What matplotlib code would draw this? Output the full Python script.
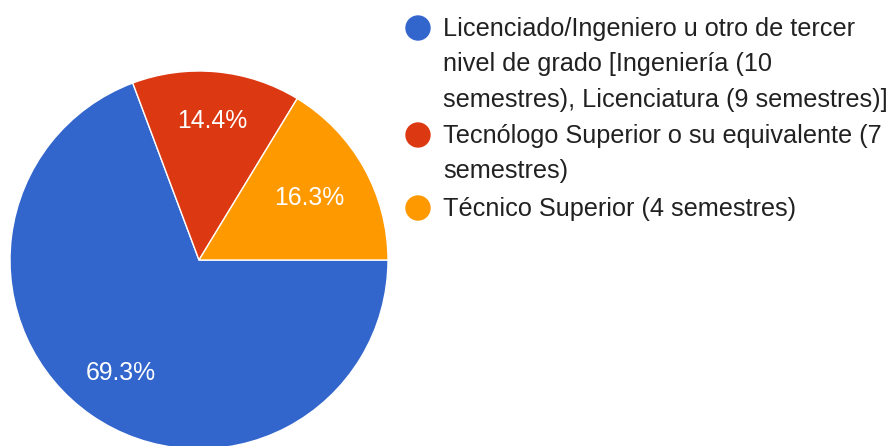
import matplotlib
matplotlib.use("Agg")
import matplotlib.pyplot as plt
import numpy as np
from matplotlib.patches import Circle

labels = [
    "Licenciado/Ingeniero u otro de tercer\nnivel de grado [Ingeniería (10\nsemestres), Licenciatura (9 semestres)]",
    "Tecnólogo Superior o su equivalente (7\nsemestres)",
    "Técnico Superior (4 semestres)",
]
values = [69.3, 14.4, 16.3]
colors = ["#3366CC", "#DC3912", "#FF9900"]

W, H = 891, 446
fig = plt.figure(figsize=(W / 100, H / 100), dpi=100)
ax = fig.add_axes([0, 0, 1, 1])

cx, cy, R = 199, H - 260, 189
wedges, texts, autotexts = ax.pie(
    values, colors=colors, startangle=0, counterclock=False,
    center=(cx, cy), radius=R, autopct="%.1f%%", pctdistance=0.72,
    wedgeprops=dict(edgecolor="white", linewidth=1),
    textprops=dict(color="white", fontsize=17.8, family="Liberation Sans"),
    frame=True,
)
# per-slice label distance (fraction of radius)
label_dist = [0.73, 0.74, 0.67]
for w, t, d in zip(wedges, autotexts, label_dist):
    ang = np.deg2rad((w.theta1 + w.theta2) / 2)
    t.set_position((cx + d * R * np.cos(ang), cy + d * R * np.sin(ang)))

ax.set_xlim(0, W)
ax.set_ylim(0, H)
ax.set_aspect("equal")
ax.axis("off")

# legend
y_first = [28, 135, 208]
for lab, col, yc in zip(labels, colors, y_first):
    ax.add_patch(Circle((418, H - yc), 12, color=col, clip_on=False))
    ax.text(443, H - yc + 11, lab, color="#212121", fontsize=18.2, family="Liberation Sans",
            va="top", ha="left", linespacing=1.6)

fig.savefig("out.png", dpi=100)
